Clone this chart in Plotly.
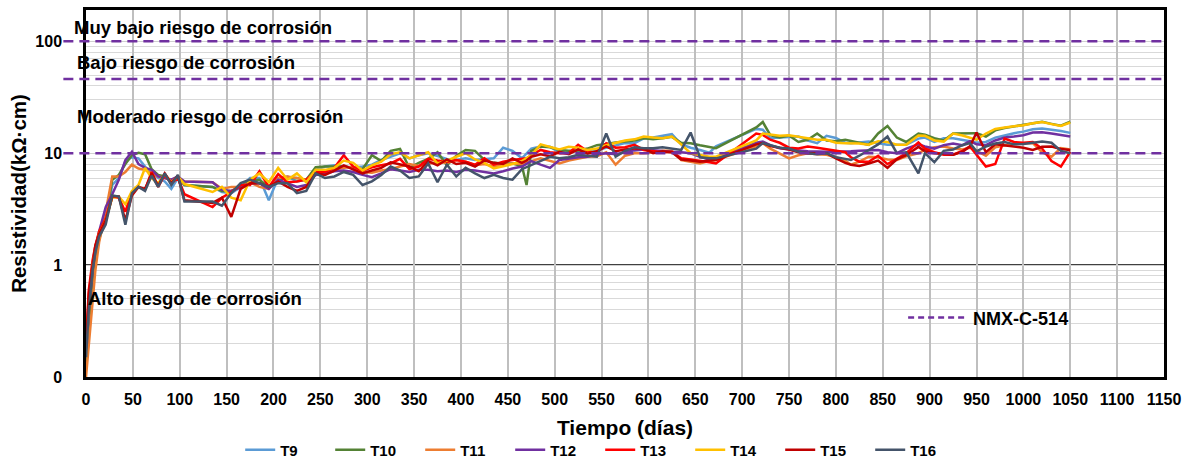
import plotly.graph_objects as go

days = [0, 3, 7, 10, 14, 21, 28, 35, 42, 49, 56, 63, 70, 77, 84, 91, 98, 105,
        135, 145, 155, 165, 175, 185, 195, 205, 215, 225, 235, 245, 255, 265, 275, 285, 295,
        305, 315, 325, 335, 345, 355, 365, 375, 385, 395, 405, 415, 425, 435, 445, 455, 465, 470, 475,
        485, 495, 505, 515, 525, 535, 545, 555, 565, 575, 585, 595, 605, 615, 625, 635, 645, 655, 665, 672,
        715, 722, 730, 740, 750, 760, 770, 780, 790, 800, 810, 816, 825, 835, 845, 855, 865, 875, 888, 895,
        905, 915, 925, 935, 943, 950, 960, 970, 980, 990, 1000, 1010, 1020, 1030, 1040, 1050]

t9 = [0.15, 0.35, 0.8, 1.3, 1.8, 2.5, 5.2, 6.0, 8.5, 9.2, 9.0, 7.6, 6.6, 6.0, 5.6, 4.8, 6.0, 5.2,
      5.0, 4.5, 4.4, 5.0, 6.0, 6.0, 3.8, 6.0, 6.2, 5.6, 5.8, 7.1, 7.6, 7.8, 7.6, 7.4, 7.6,
      7.9, 8.7, 9.4, 10.0, 9.0, 9.6, 10.0, 9.4, 8.9, 8.7, 9.0, 8.7, 8.9, 9.0, 11.2, 10.5, 9.0, 10.0, 11.0,
      11.5, 11.4, 10.2, 10.3, 10.5, 10.6, 10.7, 11.2, 11.8, 12.3, 12.3, 13.6, 13.8, 14.2, 14.8, 12.0, 11.2, 10.7, 10.1, 11.5,
      16.5, 16.2, 13.6, 13.8, 14.0, 14.1, 13.0, 12.3, 14.3, 13.7, 12.4, 12.3, 12.5, 12.7, 12.3, 11.9, 11.9, 11.9, 13.5, 13.8,
      12.6, 13.6, 13.6, 13.2, 12.8, 12.4, 12.6, 13.8, 14.5, 15.1, 15.6, 16.4, 16.6, 16.3, 15.8, 15.2]

t10 = [0.13, 0.3, 0.7, 1.2, 1.7, 2.6, 5.8, 6.4, 8.0, 9.6, 10.1, 9.8, 7.2, 6.4, 6.2, 5.6, 6.2, 5.2,
       5.0, 4.6, 4.6, 5.0, 5.7, 5.8, 5.0, 5.8, 6.0, 6.0, 5.8, 7.5, 7.6, 7.6, 7.6, 7.4, 7.2,
       9.6, 8.5, 10.5, 10.9, 7.4, 8.2, 8.9, 10.2, 7.8, 9.5, 10.7, 10.5, 8.7, 8.2, 8.1, 8.1, 7.7, 5.2, 10.5,
       11.5, 11.3, 10.7, 10.5, 10.6, 11.0, 11.8, 12.1, 12.5, 12.7, 13.0, 13.6, 13.3, 13.6, 14.0, 12.4, 12.3, 11.8, 11.3, 11.1,
       17.0, 19.0, 14.5, 13.8, 14.4, 12.6, 13.2, 15.0, 13.0, 12.8, 13.2, 12.9, 12.5, 11.9, 15.0, 17.5, 13.8, 12.6, 15.0, 14.6,
       13.6, 13.0, 15.0, 15.1, 15.1, 15.1, 14.1, 16.0, 16.8, 17.3, 17.9, 18.6, 19.1, 18.3, 17.6, 19.1]

t11 = [0.1, 0.2, 0.45, 0.9, 1.6, 3.0, 6.2, 6.2, 6.8, 7.9, 7.3, 7.1, 6.6, 6.2, 6.0, 5.8, 6.0, 5.6,
       5.5, 4.8, 5.0, 5.0, 5.5, 5.0, 4.8, 6.0, 6.2, 6.0, 5.8, 6.8, 7.0, 7.2, 7.4, 7.6, 6.8,
       6.7, 7.0, 7.2, 7.6, 8.0, 7.7, 8.1, 8.4, 8.2, 8.7, 8.4, 7.8, 8.0, 7.6, 7.8, 8.1, 8.0, 8.3, 8.5,
       9.0, 8.5, 8.1, 8.6, 9.0, 9.3, 9.4, 10.2, 7.9, 9.5, 10.0, 10.0, 10.2, 10.5, 10.5, 8.7, 8.4, 8.1, 8.5, 8.7,
       11.5, 12.3, 11.0, 10.0, 9.0, 9.6, 10.0, 9.8, 9.7, 9.2, 8.6, 7.9, 8.4, 9.3, 9.2, 8.8, 8.7, 9.4, 10.0, 10.7,
       11.3, 11.5, 11.0, 10.8, 11.2, 10.5, 9.5, 11.3, 11.8, 12.2, 12.3, 12.3, 10.2, 9.3, 11.1, 10.8]

t12 = [0.15, 0.4, 0.9, 1.4, 2.0, 3.3, 4.3, 5.8, 8.7, 10.3, 8.0, 7.4, 7.1, 6.2, 6.0, 5.8, 6.2, 5.6,
       5.5, 4.7, 4.6, 5.0, 5.4, 5.4, 4.8, 5.8, 5.4, 5.0, 5.2, 6.4, 6.6, 6.9, 7.0, 6.8, 6.4,
       6.1, 6.6, 7.2, 7.0, 6.8, 7.1, 7.1, 6.9, 7.0, 6.8, 7.1, 7.0, 6.8, 6.6, 6.9, 7.3, 7.6, 8.0, 8.5,
       7.9, 7.4, 8.7, 9.0, 9.2, 9.3, 9.8, 10.0, 9.8, 10.2, 10.6, 10.8, 10.6, 10.4, 10.3, 10.2, 10.0, 9.3, 8.8, 9.0,
       12.4, 12.7, 11.8, 11.1, 10.8, 10.6, 10.4, 10.3, 10.3, 10.3, 10.3, 10.4, 10.5, 10.6, 10.7, 10.2, 10.0, 11.0, 12.0, 11.5,
       11.0, 11.8, 12.2, 11.8, 12.8, 12.0, 11.8, 13.0, 13.8, 14.1, 14.5, 15.3, 15.4, 15.0, 14.5, 14.1]

t13 = [0.2, 0.6, 1.1, 1.5, 2.0, 2.6, 4.1, 4.0, 3.0, 4.5, 5.0, 4.7, 6.8, 5.0, 6.4, 5.4, 6.0, 4.3,
       3.3, 4.0, 4.5, 5.2, 5.2, 6.9, 5.0, 6.5, 5.5, 5.6, 5.8, 6.8, 6.8, 7.4, 9.6, 7.6, 7.0,
       7.5, 7.8, 8.1, 8.9, 7.2, 7.6, 8.9, 8.6, 8.4, 8.7, 8.4, 7.9, 9.0, 7.9, 8.4, 8.7, 8.9, 9.0, 9.6,
       10.7, 10.2, 10.0, 10.0, 11.9, 10.4, 10.0, 12.3, 11.2, 11.3, 11.9, 10.7, 10.4, 10.2, 10.3, 9.0, 8.8, 8.6, 8.3, 8.1,
       15.0, 14.6, 13.2, 12.4, 11.2, 11.0, 11.5, 11.2, 10.8, 10.5, 10.2, 9.2, 8.4, 8.4, 9.5, 8.0, 9.0, 10.0, 12.5, 11.0,
       10.2, 9.7, 9.7, 10.5, 11.5, 9.7, 7.6, 8.0, 13.5, 12.6, 12.4, 12.6, 11.0, 8.5, 7.6, 10.3]

t14 = [0.15, 0.45, 1.0, 1.4, 1.9, 2.5, 4.0, 4.1, 3.5, 4.6, 5.2, 7.4, 6.0, 5.4, 6.5, 5.5, 6.2, 5.3,
       4.5, 5.0, 4.0, 3.8, 5.8, 6.6, 5.5, 7.4, 5.8, 6.6, 5.5, 7.1, 7.1, 7.4, 8.6, 8.2, 7.0,
       7.8, 8.4, 9.8, 10.2, 9.0, 9.6, 10.2, 8.1, 8.6, 9.3, 10.0, 8.8, 8.2, 7.3, 7.6, 8.0, 8.5, 9.0, 9.6,
       12.0, 11.3, 10.8, 11.4, 11.2, 10.7, 11.0, 11.8, 12.3, 13.0, 13.3, 14.1, 13.8, 13.6, 14.1, 12.0, 10.0, 9.7, 9.3, 9.3,
       13.0, 15.0, 14.6, 14.3, 14.5, 14.0, 13.5, 13.2, 13.2, 12.4, 12.3, 12.3, 12.2, 11.9, 12.8, 12.6, 11.9, 11.9, 14.4, 14.3,
       13.0, 12.7, 15.0, 14.4, 13.8, 13.2, 15.0, 16.5, 17.0, 17.3, 17.8, 18.5, 19.0, 18.2, 17.5, 18.8]

t15 = [0.18, 0.55, 1.0, 1.5, 1.9, 2.5, 4.1, 4.1, 2.5, 4.2, 5.0, 4.8, 6.6, 5.1, 6.6, 5.4, 6.3, 3.8,
       3.6, 4.0, 2.7, 4.8, 5.4, 5.4, 5.0, 5.6, 5.0, 4.6, 5.0, 6.6, 6.4, 7.0, 7.8, 7.2, 6.6,
       7.0, 7.4, 8.3, 8.0, 7.6, 6.9, 8.5, 7.8, 8.8, 8.0, 8.2, 7.6, 8.6, 8.2, 8.0, 9.0, 8.2, 8.6, 9.3,
       9.8, 9.4, 10.3, 9.8, 10.8, 9.9, 10.4, 11.5, 10.4, 10.8, 11.0, 11.0, 10.0, 10.4, 10.2, 8.8, 8.6, 8.4, 8.6, 8.7,
       12.0, 12.3, 11.6, 11.2, 10.8, 10.2, 10.0, 10.0, 10.0, 9.0, 8.2, 7.9, 7.7, 8.1, 8.6, 7.4, 8.8, 9.6, 11.4, 10.4,
       10.0, 9.9, 9.7, 10.3, 11.5, 15.3, 10.2, 12.0, 11.8, 11.5, 11.2, 10.7, 11.4, 11.5, 10.9, 10.7]

t16 = [0.15, 0.4, 0.9, 1.3, 1.8, 2.3, 4.2, 4.1, 2.3, 4.4, 5.0, 4.6, 6.3, 5.0, 6.6, 5.2, 6.4, 3.7,
       3.7, 3.4, 4.4, 5.4, 5.8, 5.4, 5.0, 5.4, 5.4, 4.4, 4.6, 6.6, 6.0, 6.2, 6.8, 6.4, 5.2,
       5.6, 6.4, 7.6, 7.0, 6.0, 6.2, 8.1, 5.5, 7.9, 6.2, 7.4, 6.6, 6.0, 6.4, 6.0, 5.8, 7.2, 7.5, 7.9,
       8.6, 9.3, 9.0, 9.2, 9.7, 9.5, 9.3, 15.0, 9.3, 10.5, 11.3, 11.1, 11.1, 11.3, 11.0, 10.7, 15.3, 9.2, 9.0, 9.0,
       11.0, 12.3, 11.8, 11.2, 11.0, 10.3, 10.0, 9.8, 10.0, 9.2, 8.9, 8.7, 9.5, 10.6, 12.0, 14.1, 10.0, 10.2, 6.6, 10.0,
       8.3, 10.5, 10.8, 11.8, 12.3, 10.4, 11.5, 12.2, 12.6, 12.0, 12.1, 12.4, 12.7, 12.4, 10.5, 10.0]

series_names = ["T9", "T10", "T11", "T12", "T13", "T14", "T15", "T16"]
series_values = [t9, t10, t11, t12, t13, t14, t15, t16]
series_colors = ["#5B9BD5", "#548235", "#ED7D31", "#7030A0", "#FF0000", "#FFC000", "#C00000", "#44546A"]

limit_levels = [100, 46, 10]
limit_name = "NMX-C-514"
limit_color = "#7030A0"

y_tick_vals = [0.1, 1, 10, 100]
y_tick_text = ["0", "1", "10", "100"]
x_tick_vals = list(range(0, 1151, 50))

zone_labels = ["Muy bajo riesgo de corrosión", "Bajo riesgo de corrosión",
               "Moderado riesgo de corrosión", "Alto riesgo de corrosión"]
zone_x = [-0.0128, -0.010, -0.010, 0.0]
zone_y = [0.951, 0.858, 0.711, 0.215]

FONT = "Arial, Liberation Sans, sans-serif"

fig = go.Figure()
for name, vals, col in zip(series_names, series_values, series_colors):
    fig.add_trace(go.Scatter(x=days, y=vals, mode="lines", name=name,
                             line=dict(color=col, width=2.5), legend="legend"))

fig.add_trace(go.Scatter(x=[None], y=[None], mode="lines", name=limit_name,
                         line=dict(color=limit_color, width=2.5, dash="6px,4px"),
                         legend="legend2"))

for lv in limit_levels:
    fig.add_shape(type="line", xref="paper", yref="y", x0=-0.021, x1=1, y0=lv, y1=lv,
                  line=dict(color=limit_color, width=2.5, dash="10px,6px"), layer="above")

fig.add_shape(type="line", xref="paper", yref="y", x0=0, x1=1, y0=1, y1=1,
              line=dict(color="black", width=1.5), layer="between")

for txt, xx, yy in zip(zone_labels, zone_x, zone_y):
    fig.add_annotation(text=txt, xref="paper", yref="paper", x=xx, y=yy,
                       xanchor="left", yanchor="middle", showarrow=False,
                       font=dict(family=FONT, size=18.5, color="black", weight="bold"))

minor_vals = [m * 10 ** e for e in (-1, 0, 1, 2) for m in range(2, 10)]

fig.update_layout(
    width=1188, height=458,
    margin=dict(l=86, r=24, t=10, b=81, autoexpand=False),
    paper_bgcolor="white", plot_bgcolor="white",
    font=dict(family=FONT, size=16, color="black", weight="bold"),
    xaxis=dict(range=[0, 1150], tickvals=x_tick_vals, showgrid=True, gridcolor="#BFBFBF",
               gridwidth=1.5, showline=True, linecolor="black", linewidth=2.5, mirror=True,
               zeroline=False, ticks="", ticklabelstandoff=6, automargin=False,
               tickfont=dict(family=FONT, size=16, color="black", weight="bold"),
               title=dict(text="Tiempo (días)", standoff=14,
                          font=dict(family=FONT, size=21, color="black", weight="bold"))),
    yaxis=dict(type="log", range=[-1, 2.28], tickvals=y_tick_vals, ticktext=y_tick_text,
               showgrid=True, gridcolor="#D0D0D0", gridwidth=1,
               minor=dict(tickvals=minor_vals, showgrid=True, gridcolor="#D9D9D9", gridwidth=1, ticks=""),
               showline=True, linecolor="black", linewidth=2.5, mirror=True,
               zeroline=False, ticks="", ticklabelstandoff=18, automargin=False,
               tickfont=dict(family=FONT, size=16, color="black", weight="bold"),
               title=dict(text="Resistividad(kΩ·cm)", standoff=4,
                          font=dict(family=FONT, size=20.5, color="black", weight="bold"))),
    legend=dict(orientation="h", x=0.477, xanchor="center", y=-0.199, yanchor="middle",
                entrywidth=45, entrywidthmode="pixels", bgcolor="rgba(0,0,0,0)",
                font=dict(family=FONT, size=15, color="black", weight="bold")),
    legend2=dict(x=0.758, xanchor="left", y=0.161, yanchor="middle", bgcolor="rgba(0,0,0,0)",
                 itemwidth=60,
                 font=dict(family=FONT, size=18, color="black", weight="bold")),
    showlegend=True,
)

fig.write_html("out.html")
